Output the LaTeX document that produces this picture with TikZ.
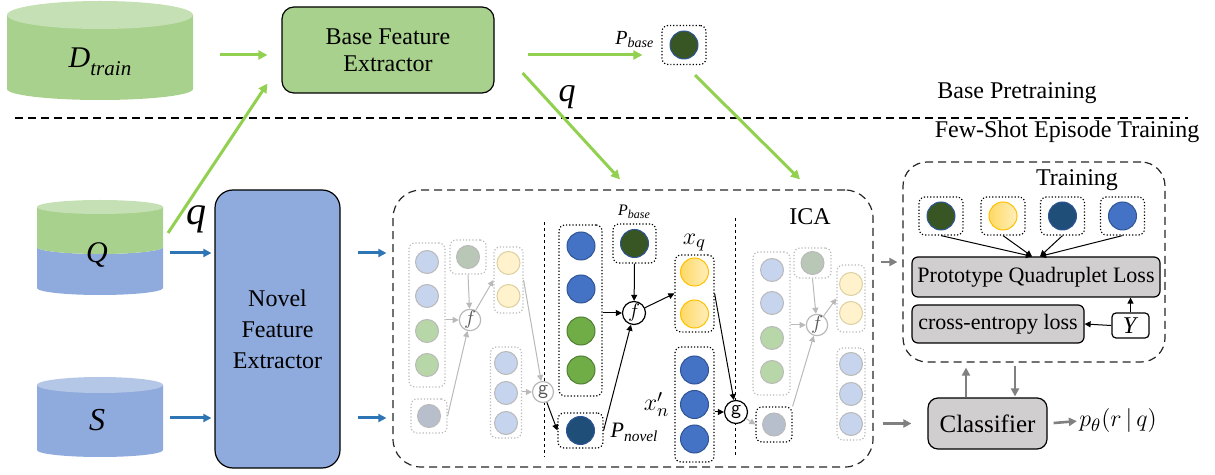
\documentclass[tikz,border=0pt]{standalone}
\usepackage{fontspec}
\setmainfont{Liberation Serif}
\usepackage{tikz}
\usetikzlibrary{arrows.meta, positioning, calc}

\definecolor{trgreen}{HTML}{A9D18E}
\definecolor{trtop}{HTML}{C5E0B4}
\definecolor{nvblue}{HTML}{8FAADC}
\definecolor{nvtop}{HTML}{B4C7E7}
\definecolor{arrgreen}{HTML}{92D050}
\definecolor{arrblue}{HTML}{2E75B6}
\definecolor{protblue}{HTML}{4472C4}
\definecolor{protgreen}{HTML}{70AD47}
\definecolor{basegreen}{HTML}{375623}
\definecolor{novelblue}{HTML}{1F4E79}
\definecolor{qyellow}{HTML}{FFD966}
\definecolor{qedge}{HTML}{FFC000}
\definecolor{lossgray}{HTML}{D0CECE}
\definecolor{edgeblue}{HTML}{2F5597}
\definecolor{edgegreen}{HTML}{507E32}
\definecolor{fadeblue}{HTML}{C6D4EE}
\definecolor{fadegreen}{HTML}{B8D7A8}
\definecolor{fadeyellow}{HTML}{FFF2CC}
\definecolor{fadeyedge}{HTML}{DDD0A0}
\definecolor{fadebase}{HTML}{B9C7B6}
\definecolor{fadenovel}{HTML}{B8BFCC}

\newcommand{\isub}[2]{\textit{#1}\textsubscript{\textit{#2}}}

\begin{document}
\begin{tikzpicture}[x=0.5pt, y=-0.5pt,
        txt/.style={font=\fontsize{12}{14}\selectfont},
        extractor/.style={rectangle, draw, line width=0.6pt, rounded corners=6pt, align=center, font=\fontsize{12}{13.5}\selectfont},
        lossbox/.style={rectangle, draw, line width=0.6pt, fill=lossgray, rounded corners=3pt, align=center, inner sep=0pt, font=\fontsize{11}{13}\selectfont},
        region/.style={rectangle, draw=black!85, line width=0.6pt, dash pattern=on 4pt off 2.5pt, rounded corners=14pt},
        slot/.style={rectangle, draw, densely dotted, line width=0.6pt, rounded corners=3pt, inner sep=0pt},
        fslot/.style={slot, draw=gray!55},
        ball/.style={circle, draw, line width=0.5pt, minimum size=14pt, inner sep=0pt},
        yball/.style={ball, draw=qedge, left color=qyellow, right color=qyellow!45},
        fball/.style={ball, draw=gray!55, minimum size=11.5pt},
        op/.style={circle, draw, fill=white, line width=0.6pt, minimum size=11.5pt, inner sep=0pt, font=\fontsize{10}{10}\selectfont},
        fop/.style={op, draw=gray!55, text=gray!70!black, minimum size=10.5pt},
        garrow/.style={-{Triangle[length=4.5pt, width=4.5pt]}, arrgreen, line width=1.5pt},
        barrow/.style={-{Triangle[length=4pt, width=4pt]}, arrblue, line width=1.5pt},
        oarrow/.style={-{Triangle[length=4pt, width=4pt]}, gray, line width=1.3pt},
        karrow/.style={-{Triangle[length=3pt, width=3pt]}, line width=0.5pt},
        farrow/.style={-{Triangle[length=3pt, width=3pt]}, gray!55, line width=0.5pt},
        sep/.style={line width=0.5pt, dash pattern=on 1.5pt off 1.5pt}
    ]
    \useasboundingbox (0,0) rectangle (1215,475);

    % data sets
    \fill[trgreen] (7,15) -- (7,89) arc[start angle=180, end angle=360, x radius=46.5pt, y radius=5.5pt] -- (193,15) -- cycle;
    \fill[trtop] (100,15) ellipse [x radius=46.5pt, y radius=7pt];
    \fill[nvblue] (37,247) -- (37,288) arc[start angle=180, end angle=360, x radius=31.5pt, y radius=3.5pt] -- (163,247) arc[start angle=0, end angle=-180, x radius=31.5pt, y radius=3.5pt] -- cycle;
    \fill[trgreen] (37,207) -- (37,247) arc[start angle=180, end angle=360, x radius=31.5pt, y radius=3.5pt] -- (163,207) -- cycle;
    \fill[trtop] (100,207) ellipse [x radius=31.5pt, y radius=3.5pt];
    \fill[nvblue] (37,385) -- (37,450) arc[start angle=180, end angle=360, x radius=31.5pt, y radius=3.5pt] -- (163,385) -- cycle;
    \fill[nvtop] (100,385) ellipse [x radius=31.5pt, y radius=4pt];

    \draw[line width=1pt, dash pattern=on 4pt off 2.5pt] (15,118) -- (1188,118);
    \draw[sep] (544,222) -- (544,457);
    \draw[sep] (735,218) -- (735,455);

    \node (dtrain) at (100,62) {\fontsize{15}{15}\selectfont\itshape D\raisebox{-4pt}{\fontsize{10.5}{10.5}\selectfont train}};
    \node[font=\fontsize{15}{15}\selectfont\itshape] (qset) at (97,255) {Q};
    \node[font=\fontsize{16}{16}\selectfont\itshape] (sset) at (97,420) {S};
    \node[txt] (bpt) at (1017,93) {Base Pretraining};
    \node[txt] (fst) at (1067,132) {Few-Shot Episode Training};

    % base pretraining
    \node[extractor, fill=trgreen, minimum width=106pt, minimum height=43pt] (bfe) at (388,50) {Base Feature\\Extractor};
    \node[slot, minimum width=22pt, minimum height=19.5pt] (pb0) at (684,45) {};
    \node[ball, fill=basegreen, draw=edgeblue] (pb0c) at (pb0) {};
    \node[left=0pt of pb0, yshift=2.5pt, font=\fontsize{10}{10}\selectfont] (pb0l) {\isub{P}{base}};
    \coordinate (dtr) at (193,55);
    \draw[garrow, shorten <=13.5pt, shorten >=7pt] (dtr) -- (bfe.west |- dtr);
    \draw[garrow, shorten <=16.5pt, shorten >=9.5pt] (bfe.east |- dtr) -- (pb0.west |- dtr);
    \coordinate (qtail) at (168,233);
    \draw[garrow] (qtail) -- ($(bfe.south west)+(-14,-10)$);
    \node[font=\fontsize{20}{20}\selectfont\itshape] (qa) at (196,219) {q};
    \node[font=\fontsize{17}{17}\selectfont\itshape] (qb) at (567,97) {q};

    % episode
    \node[extractor, fill=nvblue, rounded corners=9pt, minimum width=62.5pt, minimum height=139pt, font=\fontsize{12}{15.5}\selectfont] (nfe) at (277.5,329) {Novel\\Feature\\Extractor};
    \coordinate (qr) at (163,253);
    \coordinate (sr) at (163,418);
    \draw[barrow, shorten <=3.5pt, shorten >=1.5pt] (qr) -- (nfe.west |- qr);
    \draw[barrow, shorten <=3.5pt, shorten >=1.5pt] (sr) -- (nfe.west |- sr);

    \node[region, minimum width=240pt, minimum height=138.5pt] (ica) at (633,328.5) {};
    \node[txt] (icat) at (810,217) {ICA};
    \draw[barrow, shorten <=8.5pt, shorten >=3pt] (nfe.east |- qr) -- (ica.west |- qr);
    \draw[barrow, shorten <=8.5pt, shorten >=3pt] (nfe.east |- sr) -- (ica.west |- sr);
    \draw[garrow] ($(bfe.east)+(28,23)$) -- ($(ica.north)+(-13,-10)$);
    \draw[garrow] ($(pb0.south)+(11,10)$) -- ($(ica.north)+(167,-10)$);

    % ICA, first step (faded)
    \node[fslot, minimum width=18pt, minimum height=72pt] (lc) at (427,315) {};
    \node[fball, fill=fadeblue] (lc1) at (427,262) {};
    \node[fball, fill=fadeblue] (lc2) at (427,296) {};
    \node[fball, fill=fadegreen] (lc3) at (427,331) {};
    \node[fball, fill=fadegreen] (lc4) at (427,365) {};
    \node[fslot, minimum width=18pt, minimum height=17pt] (lt) at (468,257) {};
    \node[fball, fill=fadebase] (ltc) at (lt) {};
    \node[fslot, minimum width=18pt, minimum height=17pt] (lb) at (429,416) {};
    \node[fball, fill=fadenovel] (lbc) at (lb) {};
    \node[fop] (f1) at (470,320) {$f$};
    \node[fslot, minimum width=14.5pt, minimum height=33pt] (ly) at (508.5,280) {};
    \node[fball, fill=fadeyellow, draw=fadeyedge] (ly1) at (508.5,263) {};
    \node[fball, fill=fadeyellow, draw=fadeyedge] (ly2) at (508.5,296) {};
    \node[fslot, minimum width=15.5pt, minimum height=45.5pt] (lq) at (506,392.5) {};
    \node[fball, fill=fadeblue] (lq1) at (506,363) {};
    \node[fball, fill=fadeblue] (lq2) at (506,393) {};
    \node[fball, fill=fadeblue] (lq3) at (506,423) {};
    \node[fop, font=\sffamily\fontsize{10}{10}\selectfont] (g1) at (543,392) {g};
    \draw[farrow] (lc.east |- f1) -- (f1);
    \draw[farrow] (lt.south) -- (f1);
    \draw[farrow] (lb.east) -- (f1);
    \draw[farrow] (f1) -- (ly.west);
    \draw[farrow] (ly.east) -- (g1);
    \draw[farrow] (lq.east |- g1) -- (g1);

    % ICA, middle step
    \node[slot, minimum width=21.5pt, minimum height=85.5pt] (mc) at (580.5,310.5) {};
    \node[ball, fill=protblue, draw=edgeblue] (mc1) at (581,246) {};
    \node[ball, fill=protblue, draw=edgeblue] (mc2) at (581,289) {};
    \node[ball, fill=protgreen, draw=edgegreen] (mc3) at (581,331) {};
    \node[ball, fill=protgreen, draw=edgegreen] (mc4) at (581,370) {};
    \node[slot, minimum width=21.5pt, minimum height=19.5pt] (pb1) at (634.5,243.5) {};
    \node[ball, fill=basegreen, draw=edgeblue] (pb1c) at (pb1) {};
    \node[above=-1pt of pb1, font=\fontsize{8}{8}\selectfont] (pb1l) {\isub{P}{base}};
    \node[op] (f2) at (634,313) {$f$};
    \node[slot, minimum width=22.5pt, minimum height=17.5pt] (pn) at (580.5,430.5) {};
    \node[ball, fill=novelblue, draw=edgeblue] (pnc) at (pn) {};
    \node[right=0pt of pn, yshift=-1pt, font=\fontsize{11}{11}\selectfont] (pnl) {\isub{P}{novel}};
    \node[slot, minimum width=19.5pt, minimum height=38.5pt] (xq) at (694.5,293.5) {};
    \node[yball] (xq1) at (694.5,272) {};
    \node[yball] (xq2) at (694.5,314) {};
    \node[above=-2pt of xq, font=\fontsize{13}{13}\selectfont] (xql) {$x_q$};
    \node[slot, minimum width=19.5pt, minimum height=57.5pt] (xn) at (694.5,404.5) {};
    \node[ball, fill=protblue, draw=edgeblue] (xn1) at (694.5,370) {};
    \node[ball, fill=protblue, draw=edgeblue] (xn2) at (694.5,404.5) {};
    \node[ball, fill=protblue, draw=edgeblue] (xn3) at (694.5,439) {};
    \node[left=-1pt of xn, font=\fontsize{13}{13}\selectfont] (xnl) {$x'_n$};
    \node[op, font=\sffamily\fontsize{10}{10}\selectfont] (g2) at (736,412) {g};
    \draw[karrow] (g1) -- (pn.west);
    \draw[karrow] (mc.east |- f2) -- (f2);
    \draw[karrow] (pb1.south) -- (f2);
    \draw[karrow] (pn.east) -- (f2);
    \draw[karrow] (f2) -- (xq.west);
    \draw[karrow] (xq.east) -- (g2);
    \draw[karrow] (xn.east |- g2) -- (g2);

    % ICA, last step (faded)
    \node[slot, minimum width=18pt, minimum height=17.5pt] (rb) at (774,424.5) {};
    \node[fball, fill=fadenovel] (rbc) at (rb) {};
    \node[fslot, minimum width=18.5pt, minimum height=71.5pt] (rc) at (771.5,323.5) {};
    \node[fball, fill=fadeblue] (rc1) at (772,270) {};
    \node[fball, fill=fadeblue] (rc2) at (772,303) {};
    \node[fball, fill=fadegreen] (rc3) at (772,338) {};
    \node[fball, fill=fadegreen] (rc4) at (772,372) {};
    \node[fslot, minimum width=18.5pt, minimum height=15pt] (rt) at (812.5,263) {};
    \node[fball, fill=fadebase] (rtc) at (rt) {};
    \node[fop] (f3) at (817,325) {$f$};
    \node[fslot, minimum width=14pt, minimum height=33.5pt] (ry) at (851,298.5) {};
    \node[fball, fill=fadeyellow, draw=fadeyedge] (ry1) at (851,284) {};
    \node[fball, fill=fadeyellow, draw=fadeyedge] (ry2) at (851,313) {};
    \node[fslot, minimum width=14pt, minimum height=46pt] (rq) at (851,394) {};
    \node[fball, fill=fadeblue] (rq1) at (851,364) {};
    \node[fball, fill=fadeblue] (rq2) at (851,394) {};
    \node[fball, fill=fadeblue] (rq3) at (851,424) {};
    \draw[farrow] (g2) -- (rb.west);
    \draw[farrow] (rc.east |- f3) -- (f3);
    \draw[farrow] (rt.south) -- (f3);
    \draw[farrow] (rb.north east) -- (f3);
    \draw[farrow] (f3) -- (ry.west);

    % training
    \node[region, rounded corners=12pt, minimum width=131pt, minimum height=100pt] (trn) at (1034,262) {};
    \node[txt] (trt) at (1077,180) {Training};
    \node[slot, minimum width=22pt, minimum height=19pt] (t1) at (941,216) {};
    \node[ball, fill=basegreen, draw=edgeblue] (t1c) at (t1) {};
    \node[slot, minimum width=22pt, minimum height=19pt] (t2) at (1003,216) {};
    \node[yball] (t2c) at (t2) {};
    \node[slot, minimum width=22pt, minimum height=19pt] (t3) at (1062.5,216) {};
    \node[ball, fill=novelblue, draw=edgeblue] (t3c) at (t3) {};
    \node[slot, minimum width=22pt, minimum height=19pt] (t4) at (1122.5,216) {};
    \node[ball, fill=protblue, draw=edgeblue] (t4c) at (t4) {};
    \node[lossbox, minimum width=124pt, minimum height=20pt] (pql) at (1036,277) {Prototype Quadruplet Loss};
    \node[lossbox, minimum width=86pt, minimum height=19pt] (ce) at (998,324) {cross-entropy loss};
    \node[rectangle, draw, line width=0.6pt, rounded corners=2pt, fill=white, minimum width=18.5pt, minimum height=12.5pt, inner sep=0pt, font=\fontsize{12}{12}\selectfont] (yl) at (1130.5,325.5) {\textit{Y}};
    \draw[karrow] (t1.south) -- ([xshift=-2pt]pql.north);
    \draw[karrow] (t2.south) -- ([xshift=-2pt]pql.north);
    \draw[karrow] (t3.south) -- ([xshift=2pt]pql.north);
    \draw[karrow] (t4.south) -- ([xshift=2pt]pql.north);
    \draw[karrow] (yl.west) -- (ce.east);
    \draw[karrow] (yl.north) -- (yl.north |- pql.south);

    % classifier
    \node[lossbox, rounded corners=5pt, minimum width=59.5pt, minimum height=25.5pt, font=\fontsize{12.5}{14}\selectfont] (cls) at (987.5,423.5) {Classifier};
    \node[font=\fontsize{13}{13}\selectfont, inner sep=0pt] (pout) at (1118,421) {$p_\theta(r\,|\,q)$};
    \draw[oarrow, shorten <=3.5pt, shorten >=2.5pt] (ica.east |- trn.west) -- (trn.west);
    \draw[oarrow, shorten <=4.5pt, shorten >=8pt] (ica.east |- cls) -- (cls.west);
    \draw[oarrow, shorten >=2.5pt] ($(cls.north)+(-21.5,0)$) -- ($(cls.north |- trn.south)+(-21.5,0)$);
    \draw[oarrow, shorten <=1.5pt, shorten >=0.5pt] ($(cls.north |- trn.south)+(27.5,0)$) -- ($(cls.north)+(27.5,0)$);
    \draw[oarrow, shorten <=3pt, shorten >=1pt] (cls.east) -- (pout.west);
\end{tikzpicture}
\end{document}
